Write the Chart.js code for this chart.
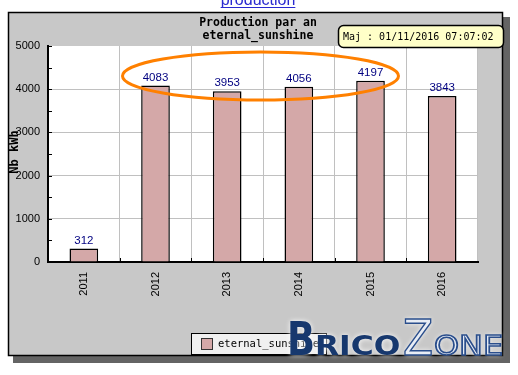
<!DOCTYPE html>
<html>
<head>
<meta charset="utf-8">
<script src="https://cdn.jsdelivr.net/npm/chart.js@4.4.0/dist/chart.umd.min.js"></script>
<style>
  html, body { margin: 0; padding: 0; background: #fff; }
</style>
</head>
<body>
<canvas id="chart" width="518" height="375"></canvas>
<script>
// Chart data
const years = ["2011", "2012", "2013", "2014", "2015", "2016"];
const production = [312, 4083, 3953, 4056, 4197, 3843];
const yMax = 5000;
const yStep = 1000;
const yMinorStep = 500;
const seriesName = "eternal_sunshine";
const titleLines = ["Production par an", "eternal_sunshine"];
const axisTitle = "Nb kWh";
const updateText = "Maj : 01/11/2016 07:07:02";
const linkText = "production";

const barColor = "#d4a8a8";
const gridColor = "#c0c0c0";
const mono = '"DejaVu Sans Mono", "Liberation Mono", monospace';
const sans = '"Liberation Sans", Arial, sans-serif';

// -------------------------------------------------------------------
// Drawing of the frame, texts and decorations around the chart.
// -------------------------------------------------------------------
const decor = {
  id: "decor",
  beforeDraw(chart) {
    const ctx = chart.ctx;
    const a = chart.chartArea;
    ctx.save();
    ctx.fillStyle = "#fff";
    ctx.fillRect(0, 0, chart.width, chart.height);
    // drop shadow of the panel
    ctx.fillStyle = "#646464";
    ctx.fillRect(13, 17, 497, 346);
    // gray panel
    ctx.fillStyle = "#c8c8c8";
    ctx.fillRect(8, 12, 495, 344);
    ctx.strokeStyle = "#000";
    ctx.lineWidth = 1.5;
    ctx.strokeRect(8.5, 12.5, 494, 343);
    // plot background
    ctx.fillStyle = "#fff";
    ctx.fillRect(a.left, a.top, a.right - a.left, a.bottom - a.top);
    ctx.restore();
  },
  afterDatasetsDraw(chart) {
    const ctx = chart.ctx;
    const meta = chart.getDatasetMeta(0);
    const values = chart.data.datasets[0].data;
    ctx.save();
    ctx.fillStyle = "#000080";
    ctx.font = "11.5px " + sans;
    ctx.textAlign = "center";
    ctx.textBaseline = "alphabetic";
    meta.data.forEach((bar, i) => {
      ctx.fillText(String(values[i]), bar.x, bar.y - 5);
    });
    ctx.restore();
  },
  afterDraw(chart) {
    const ctx = chart.ctx;
    const a = chart.chartArea;
    const xs = chart.scales.x;
    const ys = chart.scales.y;
    ctx.save();

    // small inner tick marks
    ctx.strokeStyle = "#000";
    ctx.lineWidth = 1;
    for (let v = yMinorStep; v <= yMax; v += yMinorStep) {
      const y = Math.round(ys.getPixelForValue(v)) + 0.5;
      ctx.beginPath();
      ctx.moveTo(a.left, y);
      ctx.lineTo(a.left + 4, y);
      ctx.stroke();
    }
    for (let i = 0; i < years.length - 1; i++) {
      const x = Math.round((xs.getPixelForValue(i) + xs.getPixelForValue(i + 1)) / 2) + 0.5;
      ctx.beginPath();
      ctx.moveTo(x, a.bottom);
      ctx.lineTo(x, a.bottom - 4);
      ctx.stroke();
    }

    // title
    ctx.fillStyle = "#000";
    ctx.font = "bold 11.5px " + mono;
    ctx.textAlign = "center";
    ctx.textBaseline = "middle";
    ctx.fillText(titleLines[0], 258, 23);
    ctx.fillText(titleLines[1], 258, 36);

    // y axis title
    ctx.save();
    ctx.translate(15, 152);
    ctx.rotate(-Math.PI / 2);
    ctx.font = "bold 12px " + mono;
    ctx.fillText(axisTitle, 0, 0);
    ctx.restore();

    // legend
    ctx.fillStyle = "#f0f0f0";
    ctx.fillRect(191, 333, 135, 21);
    ctx.strokeStyle = "#000";
    ctx.lineWidth = 1;
    ctx.strokeRect(191.5, 333.5, 135, 21);
    ctx.fillStyle = barColor;
    ctx.fillRect(201, 338, 11, 11);
    ctx.strokeStyle = "#333";
    ctx.strokeRect(201.5, 338.5, 11, 11);
    ctx.fillStyle = "#000";
    ctx.font = "10.5px " + mono;
    ctx.textAlign = "left";
    ctx.fillText(chart.data.datasets[0].label, 218, 344.5);

    // update box
    ctx.beginPath();
    ctx.roundRect(338.5, 25.5, 165, 22, 5);
    ctx.fillStyle = "#ffffc8";
    ctx.fill();
    ctx.lineWidth = 1.5;
    ctx.strokeStyle = "#000";
    ctx.stroke();
    ctx.fillStyle = "#000";
    ctx.font = "10px " + mono;
    ctx.fillText(updateText, 343, 37);

    // orange ellipse
    ctx.beginPath();
    ctx.ellipse(260.5, 76, 138, 24, 0, 0, Math.PI * 2);
    ctx.strokeStyle = "#ff8000";
    ctx.lineWidth = 3;
    ctx.stroke();

    // link at the top
    ctx.fillStyle = "#2a2ad0";
    ctx.font = "16px " + sans;
    ctx.textAlign = "center";
    ctx.textBaseline = "alphabetic";
    ctx.fillText(linkText, 258, 5);
    const lw = ctx.measureText(linkText).width;
    ctx.fillRect(258 - lw / 2, 7, lw, 1);

    // logo
    ctx.shadowColor = "rgba(255,255,255,0.95)";
    ctx.shadowBlur = 5;
    ctx.textAlign = "left";
    ctx.textBaseline = "alphabetic";
    ctx.fillStyle = "#17386e";
    ctx.save();
    ctx.translate(287, 355);
    ctx.scale(0.8, 1);
    ctx.font = "bold 46px " + '"DejaVu Sans"';
    ctx.fillText("B", 0, 0);
    ctx.restore();
    ctx.save();
    ctx.translate(315, 355);
    ctx.scale(1.16, 1);
    ctx.font = "bold 27px " + '"DejaVu Sans"';
    ctx.fillText("RICO", 0, 0);
    ctx.restore();
    ctx.strokeStyle = "#2a4e8c";
    ctx.lineWidth = 1.5;
    ctx.fillStyle = "#e8edf5";
    ctx.save();
    ctx.translate(403, 355);
    ctx.scale(0.88, 1);
    ctx.font = "50px " + '"DejaVu Sans"';
    ctx.fillText("Z", 0, 0);
    ctx.shadowBlur = 0;
    ctx.strokeText("Z", 0, 0);
    ctx.restore();
    ctx.save();
    ctx.translate(434, 355);
    ctx.scale(1.18, 1);
    ctx.font = "27px " + '"DejaVu Sans"';
    ctx.fillText("ONE", 0, 0);
    ctx.shadowBlur = 0;
    ctx.strokeText("ONE", 0, 0);
    ctx.restore();

    ctx.restore();
  }
};

new Chart(document.getElementById("chart"), {
  type: "bar",
  data: {
    labels: years,
    datasets: [{
      label: seriesName,
      data: production,
      backgroundColor: barColor,
      borderColor: "#000",
      borderWidth: 1.5,
      borderSkipped: "bottom",
      barPercentage: 0.4,
      categoryPercentage: 1
    }]
  },
  options: {
    responsive: false,
    animation: false,
    layout: { padding: { left: 0, top: 46, right: 40, bottom: 0 } },
    plugins: {
      legend: { display: false },
      title: { display: false },
      tooltip: { enabled: false }
    },
    scales: {
      x: {
        afterFit(scale) { scale.height = 113; },
        offset: true,
        grid: {
          offset: true,
          drawTicks: false,
          color: (c) => (c.index === 0 || c.index >= years.length) ? "rgba(0,0,0,0)" : gridColor
        },
        border: { display: true, color: "#000", width: 2 },
        ticks: {
          minRotation: 90,
          maxRotation: 90,
          autoSkip: false,
          padding: 10,
          color: "#000",
          font: { family: "Liberation Sans", size: 11 }
        }
      },
      y: {
        afterFit(scale) { scale.width = 48; },
        min: 0,
        max: yMax,
        grid: {
          drawTicks: false,
          color: (c) => (c.tick && (c.tick.value === 0 || c.tick.value === yMax)) ? "rgba(0,0,0,0)" : gridColor
        },
        border: { display: true, color: "#000", width: 2 },
        ticks: {
          stepSize: yStep,
          padding: 8,
          color: "#000",
          font: { family: "Liberation Sans", size: 11 },
          callback: (v) => String(v)
        }
      }
    }
  },
  plugins: [decor]
});
</script>
</body>
</html>
